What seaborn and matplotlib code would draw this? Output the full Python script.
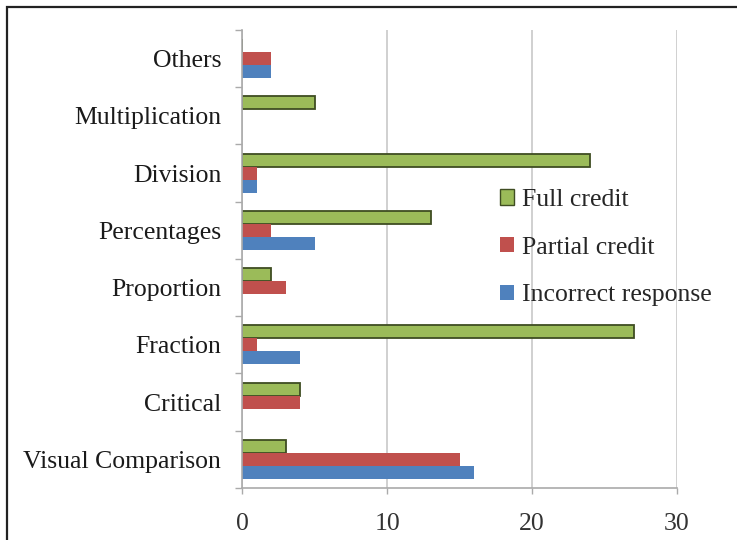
import matplotlib
matplotlib.use("Agg")
import matplotlib.pyplot as plt
import matplotlib.patches as mpatches
from matplotlib.ticker import FixedLocator
import seaborn as sns
import pandas as pd

categories = ["Others", "Multiplication", "Division", "Percentages",
              "Proportion", "Fraction", "Critical", "Visual Comparison"]
full_credit = [0, 5, 24, 13, 2, 27, 4, 3]
partial_credit = [2, 0, 1, 2, 3, 1, 4, 15]
incorrect_response = [2, 0, 1, 5, 0, 4, 0, 16]
series_names = ["Full credit", "Partial credit", "Incorrect response"]
x_ticks = [0, 10, 20, 30]

rows = []
for name, vals in zip(series_names, [full_credit, partial_credit, incorrect_response]):
    for c, v in zip(categories, vals):
        rows.append({"category": c, "series": name, "value": v})
df = pd.DataFrame(rows)

sns.set_theme(style="white")
plt.rcParams["font.family"] = ["Liberation Serif", "DejaVu Serif"]

FS = 18.5
fig = plt.figure(figsize=(7.37, 5.40), dpi=100)
ax = fig.add_axes([0.3284, 0.0963, 0.5903, 0.8482])

palette = {"Full credit": "#9BBB59", "Partial credit": "#C0504D",
           "Incorrect response": "#4F81BD"}
sns.barplot(data=df, y="category", x="value", hue="series",
            order=categories, hue_order=series_names, palette=palette,
            orient="h", width=0.68, saturation=1, ax=ax, legend=True)

for bar_container, name in zip(ax.containers, series_names):
    for p in bar_container:
        if name == "Full credit":
            p.set_edgecolor("#3F4D22")
            p.set_linewidth(1.3)
        else:
            p.set_edgecolor("none")

ax.set_xlim(0, 30)
ax.set_ylim(len(categories) - 0.5, -0.5)
ax.set_xticks(x_ticks)
ax.set_xticklabels([str(t) for t in x_ticks], fontsize=FS, color="#333333")
ax.set_yticklabels(categories, fontsize=FS, color="#1A1A1A")
ax.set_xlabel("")
ax.set_ylabel("")

ax.grid(axis="x", color="#C8C8C8", linewidth=1.2)
ax.grid(axis="y", visible=False)
ax.set_axisbelow(True)
for s in ["top", "right"]:
    ax.spines[s].set_visible(False)
for s in ["left", "bottom"]:
    ax.spines[s].set_color("#AAAAAA")
    ax.spines[s].set_linewidth(1.2)

ax.yaxis.set_minor_locator(FixedLocator([i - 0.5 for i in range(len(categories) + 1)]))
ax.tick_params(axis="y", which="major", length=0, pad=15)
ax.tick_params(axis="y", which="minor", length=5, color="#AAAAAA", width=1.0, left=True)
ax.tick_params(axis="x", which="major", length=4, color="#AAAAAA", width=1.0, bottom=True, pad=14)

handles = [mpatches.Patch(facecolor=palette[n],
                          edgecolor="#3F4D22" if n == "Full credit" else "none",
                          label=n) for n in series_names]
ax.legend(handles=handles, loc="upper left", bbox_to_anchor=(0.57, 0.675),
          frameon=False, fontsize=FS, handlelength=0.55, handleheight=0.55,
          handletextpad=0.3, labelspacing=1.0, borderaxespad=0)

frame = mpatches.Rectangle((7 / 737, -0.1), 1.2, 1 - 7 / 540 + 0.1,
                           transform=fig.transFigure, fill=False,
                           edgecolor="#222222", linewidth=1.6, clip_on=False)
fig.patches.append(frame)

fig.savefig("out.png", dpi=100)
